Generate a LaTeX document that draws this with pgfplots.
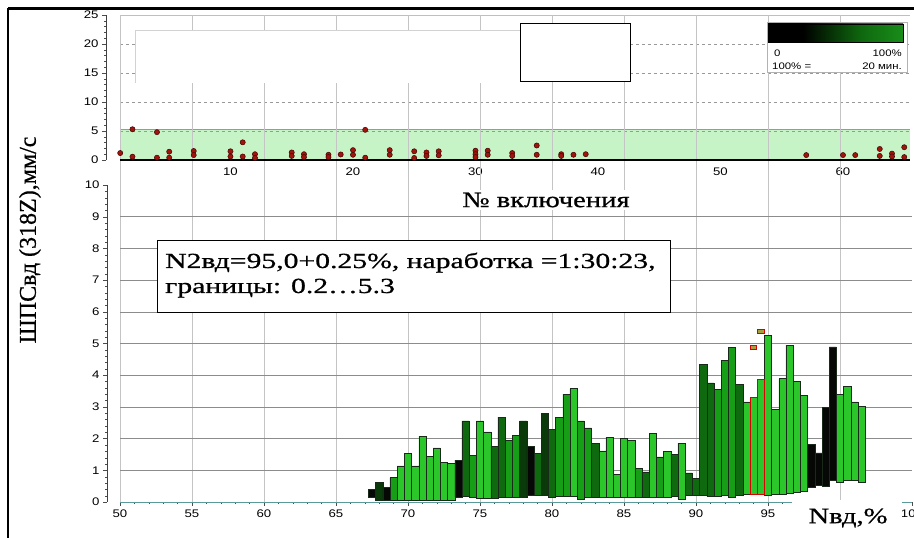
\documentclass[border=0pt]{standalone}
\usepackage{fontspec}
\setmainfont{Liberation Serif}
\newfontfamily\serifS[FakeStretch=1.3,FakeBold=0.8]{Liberation Serif}
\newfontfamily\serifL[FakeStretch=1.38,FakeBold=0.8]{Liberation Serif}
\newfontfamily\serifY[FakeBold=0.6]{Liberation Serif}
\newfontfamily\ticksans[FakeStretch=1.2]{Liberation Sans}
\usepackage{pgfplots}
\usepackage{pgfplotstable}
\pgfplotsset{compat=1.18}

\definecolor{c1}{HTML}{050805}
\definecolor{c2}{HTML}{0A3A0A}
\definecolor{c3}{HTML}{0F6A0F}
\definecolor{c4}{HTML}{179E17}
\definecolor{c5}{HTML}{2AC62A}
\definecolor{edge}{HTML}{1A2A1A}
\definecolor{bandc}{HTML}{C6F4C6}
\definecolor{gridv}{HTML}{C4C4C4}
\definecolor{gridh}{HTML}{8C8C8C}
\definecolor{dotc}{HTML}{A0140C}
\definecolor{dotedge}{HTML}{400404}
\definecolor{axc}{HTML}{5A9A9A}
\definecolor{mkfill}{HTML}{A8A040}
\pgfdeclarehorizontalshading{cbar}{100bp}{color(0bp)=(black); color(38bp)=(black); color(60bp)=(c3); color(100bp)=(c5)}

\pgfplotsset{every tick label/.append style={font=\ticksans\fontsize{11}{12}\selectfont},
  /pgf/number format/assume math mode=true}

% bars: x, bottom, top, colour class (1 black ... 5 bright green)
\pgfplotstableread{
x bot top c
67.5 0.15 0.40 1
68 0.05 0.63 2
68.5 0.05 0.47 1
69 0.05 0.77 4
69.5 0.05 1.14 5
70 0.05 1.53 5
70.5 0.05 1.14 5
71 0.05 2.08 5
71.5 0.05 1.44 5
72 0.05 1.71 5
72.5 0.05 1.26 5
73 0.05 1.21 5
73.5 0.15 1.32 1
74 0.17 2.56 3
74.5 0.15 1.48 4
75 0.12 2.56 5
75.5 0.12 2.21 5
76 0.12 1.76 3
76.5 0.15 2.68 3
77 0.15 1.95 4
77.5 0.15 2.10 4
78 0.15 2.56 2
78.5 0.22 1.76 1
79 0.20 1.53 3
79.5 0.20 2.79 2
80 0.15 2.29 3
80.5 0.18 2.68 4
81 0.18 3.40 4
81.5 0.18 3.58 5
82 0.08 2.56 4
82.5 0.15 2.34 4
83 0.15 1.86 3
83.5 0.15 1.61 5
84 0.15 2.05 5
84.5 0.15 0.86 5
85 0.15 2.00 5
85.5 0.15 1.95 5
86 0.15 1.05 4
86.5 0.15 0.95 3
87 0.15 2.16 5
87.5 0.15 1.42 4
88 0.15 1.60 5
88.5 0.18 1.50 3
89 0.08 1.86 5
89.5 0.20 0.92 3
90 0.20 0.74 3
90.5 0.20 4.35 3
91 0.17 3.76 3
91.5 0.17 3.56 4
92 0.20 4.47 4
92.5 0.15 4.87 4
93 0.20 3.72 3
93.5 0.25 3.16 5
95 0.22 5.26 5
95.5 0.25 2.92 5
96 0.25 3.89 5
96.5 0.28 4.95 5
97 0.30 3.81 5
97.5 0.35 3.37 5
98 0.47 1.82 1
98.5 0.53 1.55 1
99 0.50 2.98 1
99.5 0.70 4.89 1
100 0.63 3.40 5
100.5 0.68 3.65 5
101 0.70 3.16 5
101.5 0.63 3.02 5
}\bars

\pgfplotstableread{
x bot top
94 0.25 3.29
94.5 0.25 3.86
}\hibars

\pgfplotstableread{
x y
1 1.2
2 5.3
2 0.57
4 4.8
4 0.4
5 1.43
5 0.4
7 1.55
7 0.85
10 1.5
10 0.6
11 3.05
11 0.6
12 1.0
12 0.35
15 1.3
15 0.7
16 1.0
16 0.5
18 0.9
18 0.5
19 0.95
20 1.7
20 0.9
21 5.2
21 0.4
23 1.7
23 0.9
25 1.5
25 0.35
26 1.3
26 0.7
27 1.5
27 0.8
30 1.6
30 1.0
30 0.5
31 1.6
31 0.9
33 1.2
33 0.7
35 2.5
35 0.9
37 1.0
37 0.7
38 0.9
39 1.0
57 0.85
60 0.85
61 0.85
63 1.9
63 0.7
64 1.1
64 0.6
65 2.2
65 0.5
}\runpts

\begin{document}
\begin{tikzpicture}
\path[use as bounding box] (0pt,0pt) rectangle (914pt,538pt);

% ---------- top chart (background, ticks) ----------
\begin{axis}[at={(106pt,378pt)}, anchor=south west, scale only axis,
  width=804pt, height=145pt,
  xmin=-0.16, xmax=65.47, ymin=0, ymax=25,
  axis x line=bottom, axis y line=left, axis line style={-},
  x axis line style={draw=none}, y axis line style={black!75},
  xtick={10,20,...,60}, ytick={0,5,...,25}, minor y tick num=4,
  major x tick style={draw=none},
  tick align=outside, major tick length=4pt, minor tick length=2pt,
  tick style={black!70}, clip=false]
  \fill[bandc] (axis cs:0.98,0) rectangle (axis cs:65.47,5.3);
  \draw[gray!80] (axis cs:0.98,5.3) -- (axis cs:65.47,5.3);
  \pgfplotsinvokeforeach{5,10,15,20}{
    \draw[gray!80, dash pattern=on 3pt off 3pt] (axis cs:0.98,#1) -- (axis cs:65.47,#1);}
  \draw[gray!50] (axis cs:0.98,0) -- (axis cs:0.98,25) -- (axis cs:65.47,25);
\end{axis}

% ---------- bottom chart (axes, grid) ----------
\begin{axis}[at={(107pt,36pt)}, anchor=south west, scale only axis,
  width=805pt, height=317pt,
  xmin=49.1, xmax=105, ymin=0, ymax=10,
  axis x line=bottom, axis y line=left, axis line style={-},
  x axis line style={draw=none}, y axis line style={black!75},
  xtick={50,55,60,65,70,75,80,85,90,95,105}, ytick={0,1,...,10},
  minor xtick={51,52,53,54,56,57,58,59,61,62,63,64,66,67,68,69,71,72,73,74,76,77,78,79,81,82,83,84,86,87,88,89,91,92,93,94,96,97},
  minor y tick num=4,
  tick align=outside, major tick length=4pt, minor tick length=2pt,
  tick style={black!70}, clip=false]
  \pgfplotsinvokeforeach{50,55,60,65,70,75,80,85,90,95,100}{
    \draw[gridv] (axis cs:#1,0) -- (axis cs:#1,15.36);}
  \pgfplotsinvokeforeach{1,2,3,4,5,6,7,8,9}{
    \draw[gridh] (axis cs:50,#1) -- (axis cs:105,#1);}
  \draw[axc] (axis cs:50,0) -- (axis cs:105,0);
  \addplot[only marks, mark=square*, mark size=2pt,
    mark options={xscale=1.6, fill=mkfill, draw=red!85!black, line width=0.8pt}]
    coordinates {(94,4.87) (94.5,5.38)};
\end{axis}

% ---------- bars ----------
\begin{axis}[at={(107pt,36pt)}, anchor=south west, scale only axis,
  width=805pt, height=317pt,
  xmin=49.1, xmax=105, ymin=0, ymax=10, hide axis,
  ybar stacked, bar width=0.5]
  \addplot[draw=none, fill=none] table[x=x, y=bot] {\bars};
  \addplot[fill=c1, draw=edge, line width=0.5pt] table[x=x, y expr={\thisrow{c}==1 ? \thisrow{top}-\thisrow{bot} : 0}] {\bars};
  \addplot[fill=c2, draw=edge, line width=0.5pt] table[x=x, y expr={\thisrow{c}==2 ? \thisrow{top}-\thisrow{bot} : 0}] {\bars};
  \addplot[fill=c3, draw=edge, line width=0.5pt] table[x=x, y expr={\thisrow{c}==3 ? \thisrow{top}-\thisrow{bot} : 0}] {\bars};
  \addplot[fill=c4, draw=edge, line width=0.5pt] table[x=x, y expr={\thisrow{c}==4 ? \thisrow{top}-\thisrow{bot} : 0}] {\bars};
  \addplot[fill=c5, draw=edge, line width=0.5pt] table[x=x, y expr={\thisrow{c}==5 ? \thisrow{top}-\thisrow{bot} : 0}] {\bars};
\end{axis}

\begin{axis}[at={(107pt,36pt)}, anchor=south west, scale only axis,
  width=805pt, height=317pt,
  xmin=49.1, xmax=105, ymin=0, ymax=10, hide axis,
  ybar stacked, bar width=0.5]
  \addplot[draw=none, fill=none] table[x=x, y=bot] {\hibars};
  \addplot[fill=c5, draw=red!85!black, line width=0.9pt] table[x=x, y expr={\thisrow{top}-\thisrow{bot}}] {\hibars};
\end{axis}

% ---------- covering boxes and labels ----------
\fill[white] (135pt,455pt) rectangle (520pt,508pt);
\draw[gray!35] (135pt,455pt) -- (135pt,508pt) -- (520pt,508pt);
\draw[black, fill=white, line width=0.8pt] (520pt,457pt) rectangle (630pt,515pt);

\draw[gray!60, fill=white] (767pt,466pt) rectangle (907pt,516pt);
\shade[shading=cbar] (768pt,496pt) rectangle (903pt,514pt);
\draw[black, line width=0.8pt] (768pt,496pt) rectangle (903pt,514pt);
\begin{scope}[every node/.style={font=\ticksans\fontsize{9.5}{11}\selectfont, inner sep=1pt}]
\node[anchor=west] at (773pt,485pt) {0};
\node[anchor=east] at (903pt,485pt) {100\%};
\node[anchor=west] at (771pt,472pt) {100\% =};
\node[anchor=east] at (903pt,472pt) {20 мин.};
\end{scope}

\node[fill=white, inner xsep=6pt, inner ysep=3pt, font=\serifS\fontsize{22}{24}\selectfont] at (546pt,338pt) {№ включения};

\draw[black, line width=0.8pt, fill=white] (157pt,226pt) rectangle (670pt,298pt);
\node[anchor=base west, inner sep=0pt, font=\serifL\fontsize{21.5}{25}\selectfont] at (165pt,270pt)
  {N2вд=95,0+0.25\%, наработка =1:30:23,};
\node[anchor=base west, inner sep=0pt, font=\serifL\fontsize{21.5}{25}\selectfont] at (165pt,245pt)
  {границы: 0.2…5.3};

\fill[white] (792pt,0pt) rectangle (902pt,37.5pt);
\node[font=\serifS\fontsize{22}{24}\selectfont, inner sep=1pt] at (848pt,20pt) {Nвд,\%};

\node[rotate=90, font=\serifY\fontsize{24}{26}\selectfont] at (30pt,298pt) {ШПСвд (318Z),мм/с};

% ---------- top chart points ----------
\begin{axis}[at={(106pt,378pt)}, anchor=south west, scale only axis,
  width=804pt, height=145pt,
  xmin=-0.16, xmax=65.47, ymin=0, ymax=25, hide axis, clip=false]
  \draw[black, line width=1.3pt] (axis cs:0.98,0) -- (axis cs:65.47,0);
  \addplot[only marks, mark=*, mark size=2.6pt,
    mark options={fill=dotc, draw=dotedge, line width=0.5pt}] table[x=x, y=y] {\runpts};
\end{axis}

% frame
\draw[black, line width=3pt] (8pt,529pt) -- (914pt,529pt);
\draw[black, line width=2pt] (8pt,0pt) -- (8pt,530pt);
\end{tikzpicture}
\end{document}
